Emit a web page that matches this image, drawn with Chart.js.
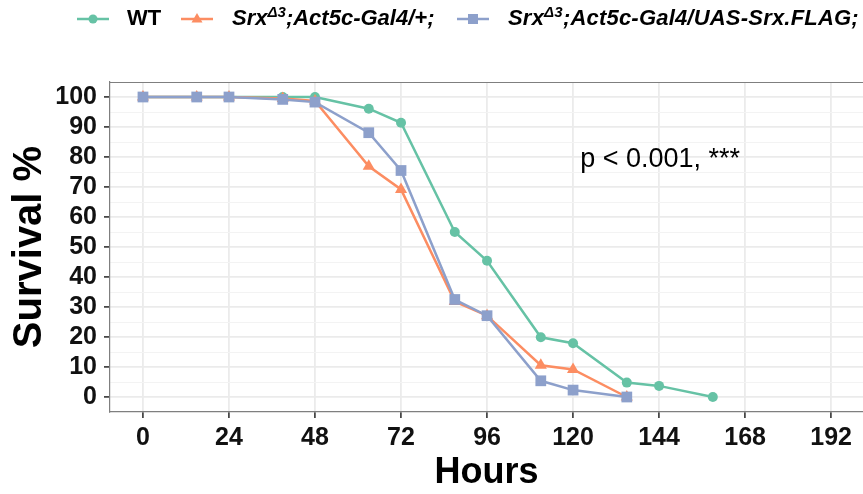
<!DOCTYPE html>
<html>
<head>
<meta charset="utf-8">
<script src="https://cdn.jsdelivr.net/npm/chart.js@4.4.1/dist/chart.umd.min.js"></script>
<style>
html,body{margin:0;padding:0;background:#fff;}
#wrap{position:relative;width:863px;height:494px;overflow:hidden;}
#c{position:absolute;left:0;top:0;}
.lg{position:absolute;top:5px;font:bold 22px "Liberation Sans",Arial,sans-serif;color:#000;white-space:nowrap;line-height:26px;}
.it{font-style:italic;}
.sup{font-size:15px;position:relative;top:-8px;}
.sym{position:absolute;top:8px;}
</style>
</head>
<body>
<div id="wrap">
<canvas id="c" width="863" height="494"></canvas>
<svg class="sym" style="left:76px" width="34" height="22"><line x1="1" y1="11" x2="33" y2="11" stroke="#66c2a5" stroke-width="2.5"/><circle cx="17" cy="11" r="4.5" fill="#66c2a5"/></svg>
<div class="lg" style="left:127px">WT</div>
<svg class="sym" style="left:180px" width="34" height="22"><line x1="1" y1="11" x2="33" y2="11" stroke="#fc8d62" stroke-width="2.5"/><polygon points="17,5 22.5,14.5 11.5,14.5" fill="#fc8d62"/></svg>
<div class="lg it" style="left:232px">Srx<span class="sup">Δ3</span>;Act5c-Gal4/+;</div>
<svg class="sym" style="left:456px" width="34" height="22"><line x1="1" y1="11" x2="33" y2="11" stroke="#8da0cb" stroke-width="2.5"/><rect x="12" y="6" width="10" height="10" fill="#8da0cb"/></svg>
<div class="lg it" style="left:508px;letter-spacing:0.2px">Srx<span class="sup">Δ3</span>;Act5c-Gal4/UAS-Srx.FLAG;</div>
</div>
<script>
// ---- data ----
const hoursWT = [0,15,24,39,48,63,72,87,96,111,120,135,144,159];
const survivalWT = [100,100,100,100,100,96.1,91.4,55.0,45.4,19.9,17.9,4.8,3.7,0];
const hoursMut = [0,15,24,39,48,63,72,87,96,111,120,135];
const survivalGal4 = [100,100,100,99.5,98.7,76.9,69.2,31.8,27.1,10.6,9.2,0];
const survivalRescue = [100,100,100,99.2,98.3,88.1,75.5,32.5,27.1,5.4,2.3,0];
const xTicks = [0,24,48,72,96,120,144,168,192];
const yTicks = [0,5,10,15,20,25,30,35,40,45,50,55,60,65,70,75,80,85,90,95,100];
const seriesNames = ["WT","SrxΔ3;Act5c-Gal4/+;","SrxΔ3;Act5c-Gal4/UAS-Srx.FLAG;"];
const annotationText = "p < 0.001, ***";
const annotationPos = [144.3, 79];

const toXY = (xs, ys) => xs.map((x,i)=>({x:x,y:ys[i]}));
const FONT = '"Liberation Sans", Arial, sans-serif';

const borderPlugin = {
  id:'panelBorder',
  afterDraw(chart){
    const {ctx, chartArea:a} = chart;
    ctx.save();
    ctx.strokeStyle = '#7f7f7f';
    ctx.lineWidth = 1.2;
    ctx.beginPath();
    ctx.moveTo(a.left, a.top+0.5);
    ctx.lineTo(a.right, a.top+0.5);
    ctx.stroke();
    ctx.restore();
  }
};
const annotPlugin = {
  id:'annot',
  afterDatasetsDraw(chart){
    const {ctx, scales} = chart;
    ctx.save();
    ctx.font = '27px ' + FONT;
    ctx.fillStyle = '#000';
    ctx.textAlign = 'center';
    ctx.textBaseline = 'middle';
    ctx.fillText(annotationText, scales.x.getPixelForValue(annotationPos[0]), scales.y.getPixelForValue(annotationPos[1]));
    ctx.restore();
  }
};

new Chart(document.getElementById('c'), {
  type:'line',
  data:{
    datasets:[
      {label:seriesNames[0], data:toXY(hoursWT,survivalWT), borderColor:'#66c2a5', backgroundColor:'#66c2a5',
       pointStyle:'circle', pointRadius:5, borderWidth:2.5, pointBorderWidth:0, order:3},
      {label:seriesNames[1], data:toXY(hoursMut,survivalGal4), borderColor:'#fc8d62', backgroundColor:'#fc8d62',
       pointStyle:'triangle', pointRadius:7, borderWidth:2.5, pointBorderWidth:0, order:2},
      {label:seriesNames[2], data:toXY(hoursMut,survivalRescue), borderColor:'#8da0cb', backgroundColor:'#8da0cb',
       pointStyle:'rect', pointRadius:7.6, borderWidth:2.5, pointBorderWidth:0, order:1}
    ]
  },
  options:{
    responsive:false,
    animation:false,
    devicePixelRatio:1,
    layout:{autoPadding:false, padding:{top:82,left:0,right:0,bottom:0}},
    plugins:{legend:{display:false}, tooltip:{enabled:false}},
    elements:{line:{tension:0}},
    scales:{
      x:{
        type:'linear', min:-9.2, max:200.9,
        afterBuildTicks(s){ s.ticks = xTicks.map(v=>({value:v})); },
        afterFit(s){ s.height = 82; },
        ticks:{autoSkip:false, maxRotation:0, padding:5, color:'#111', font:{family:FONT, size:25, weight:'bold'}},
        grid:{color:'#ebebeb', lineWidth:1.8, tickLength:6, tickColor:'#333', tickWidth:1.6},
        border:{display:true, color:'#7f7f7f', width:1.2},
        title:{display:true, text:'Hours', color:'#000', padding:{top:0,bottom:3}, font:{family:FONT, size:36, weight:'bold', lineHeight:1}}
      },
      y:{
        type:'linear', min:-5, max:105,
        afterBuildTicks(s){ s.ticks = yTicks.map(v=>({value:v})); },
        afterFit(s){ s.width = 110; },
        ticks:{autoSkip:false, padding:7, color:'#111', font:{family:FONT, size:25, weight:'bold'},
          callback:(v)=> (v % 10 === 0 ? String(v) : '')},
        grid:{
          color:(c)=> (c.tick && c.tick.value % 10 === 0 ? '#ebebeb' : '#f3f3f3'),
          lineWidth:(c)=> (c.tick && c.tick.value % 10 === 0 ? 1.8 : 1),
          tickLength:6,
          tickColor:(c)=> (c.tick && c.tick.value % 10 === 0 ? '#333' : 'rgba(0,0,0,0)'),
          tickWidth:1.6
        },
        border:{display:true, color:'#7f7f7f', width:1.2},
        title:{display:true, text:'Survival %', color:'#000', padding:{top:10,bottom:0}, font:{family:FONT, size:40, weight:'bold', lineHeight:1}}
      }
    }
  },
  plugins:[borderPlugin, annotPlugin]
});
</script>
</body>
</html>
